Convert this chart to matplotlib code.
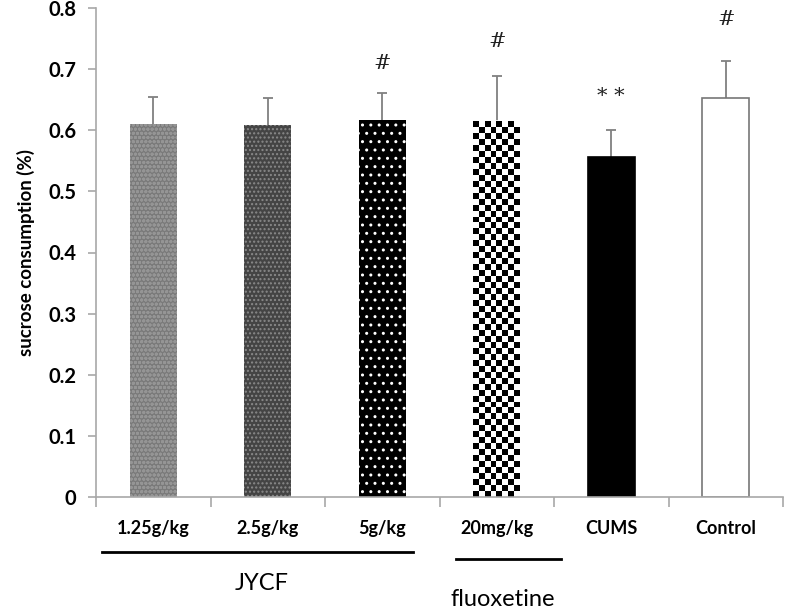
import numpy as np
import matplotlib
matplotlib.use("Agg")
import matplotlib.pyplot as plt

categories = ["1.25g/kg", "2.5g/kg", "5g/kg", "20mg/kg", "CUMS", "Control"]
means = [0.610, 0.608, 0.616, 0.615, 0.556, 0.652]
sds = [0.044, 0.044, 0.045, 0.074, 0.044, 0.061]
marks = ["", "", "#", "#", "* *", "#"]
mark_heights = [None, None, 0.710, 0.746, 0.655, 0.782]
yticks = [0, 0.1, 0.2, 0.3, 0.4, 0.5, 0.6, 0.7, 0.8]
ytick_labels = ["0", "0.1", "0.2", "0.3", "0.4", "0.5", "0.6", "0.7", "0.8"]

plt.rcParams['font.family'] = ['Lato', 'DejaVu Sans']
plt.rcParams['hatch.linewidth'] = 1.0

fig = plt.figure(figsize=(7.85, 6.13), dpi=100)
ax = fig.add_axes([96/785, 116/613, 687/785, 489/613])

x = np.arange(len(categories))
axis_grey = "#a8a8a8"

faces = ["#7a7a7a", "#444444", "black", "white", "black", "white"]
edges = ["#7a7a7a", "#444444", "black", "white", "black", "#777777"]
bars = ax.bar(x, means, width=0.41, color=faces, edgecolor=edges, linewidth=1.2, zorder=2)

# textures
bars[0].set_hatch("oooo"); bars[0].set_edgecolor("#959595"); bars[0].set_linewidth(0)
bars[1].set_hatch("...."); bars[1].set_edgecolor("#8a8a8a"); bars[1].set_linewidth(0)
bars[2].set_hatch(".."); bars[2].set_edgecolor("white"); bars[2].set_linewidth(0)

# checkerboard for the fluoxetine bar
b = bars[3]
bx, bw, bh = b.get_x(), b.get_width(), b.get_height()
ncols = 8
nrows = int(round(bh * 610 / 6.0))
checker = (np.indices((nrows, ncols)).sum(axis=0) % 2).astype(float)
im = ax.imshow(checker, cmap="gray", extent=(bx, bx + bw, 0, bh), aspect="auto",
               interpolation="nearest", zorder=2.5, origin="lower")
im.set_clip_path(b)

# symmetric error bars drawn behind the bars, so only the upper half shows
ax.errorbar(x, means, yerr=sds, fmt="none", ecolor="#808080",
            elinewidth=1.3, capsize=3.5, capthick=1.3, zorder=1)

for xi, m, h in zip(x, marks, mark_heights):
    if m:
        ax.text(xi, h, m, ha="center", va="center", fontsize=15,
                family=["DejaVu Serif"], color="#222222")

ax.set_xlim(-0.5, len(categories) - 0.5)
ax.set_ylim(0, 0.8)
ax.set_yticks(yticks)
ax.set_yticklabels(ytick_labels, fontsize=14.5, fontweight="bold")
ax.set_xticks(np.arange(-0.5, len(categories)), minor=False)
ax.set_xticklabels([])
ax.tick_params(axis="x", direction="out", length=7, color=axis_grey, width=1.2)
ax.tick_params(axis="y", direction="out", length=6, color=axis_grey, width=1.2, pad=8)
for s in ["top", "right"]:
    ax.spines[s].set_visible(False)
for s in ["left", "bottom"]:
    ax.spines[s].set_color(axis_grey)
    ax.spines[s].set_linewidth(1.2)

ax.set_ylabel("sucrose consumption (%)", fontsize=13.5, fontweight="bold", labelpad=10)

trans = ax.get_xaxis_transform()
for xi, c in zip(x, categories):
    ax.text(xi, -0.065, c, transform=trans, ha="center", va="center",
            fontsize=13, fontweight="bold", clip_on=False)

# group lines and labels
ax.plot([-0.45, 2.27], [-0.112, -0.112], transform=trans, color="black", lw=2, clip_on=False)
ax.plot([2.64, 3.56], [-0.127, -0.127], transform=trans, color="black", lw=2, clip_on=False)
ax.text(0.95, -0.176, "JYCF", transform=trans, ha="center", va="center", fontsize=17, clip_on=False)
ax.text(3.05, -0.21, "fluoxetine", transform=trans, ha="center", va="center", fontsize=17, clip_on=False)

fig.savefig("out.png", dpi=100)
